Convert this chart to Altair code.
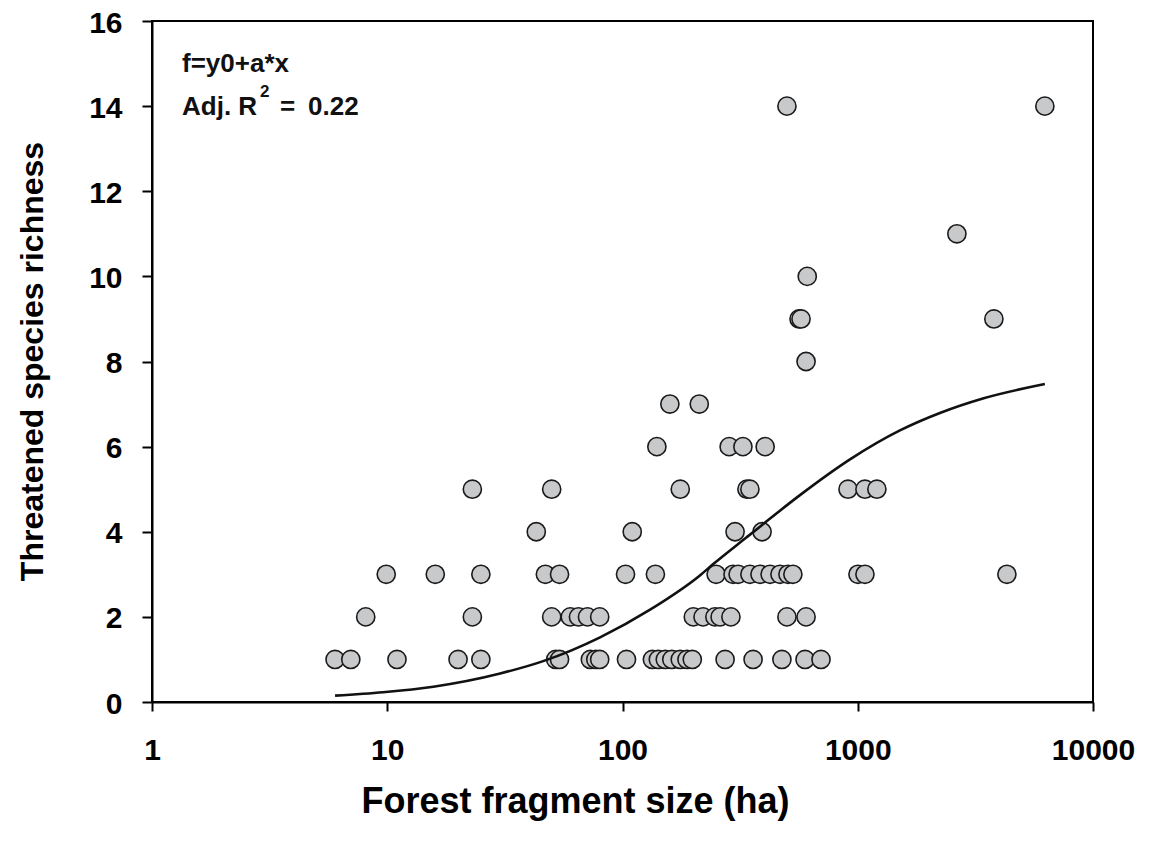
import altair as alt
import pandas as pd

rich_1 = [6.0, 7.0, 11, 20, 25, 52, 54, 73, 77, 80, 104, 134, 142, 152, 162, 176, 188, 198, 273, 359, 476, 597, 698]
rich_2 = [8.1, 23, 50, 60, 65, 71, 80, 200, 220, 247, 260, 289, 500, 603]
rich_3 = [9.9, 16, 25, 47, 54, 103, 138, 250, 295, 310, 348, 384, 424, 467, 505, 530, 1002, 1073, 4305]
rich_4 = [43, 110, 301, 392]
rich_5 = [23, 50, 176, 338, 348, 909, 1073, 1206]
rich_6 = [140, 284, 325, 404]
rich_7 = [159, 212]
rich_8 = [603]
rich_9 = [563, 574, 3790]
rich_10 = [610]
rich_11 = [2639]
rich_14 = [500, 6242]

groups = {1: rich_1, 2: rich_2, 3: rich_3, 4: rich_4, 5: rich_5, 6: rich_6,
          7: rich_7, 8: rich_8, 9: rich_9, 10: rich_10, 11: rich_11, 14: rich_14}

fragment_size_ha = []
species_richness = []
for r, xs in groups.items():
    for v in xs:
        fragment_size_ha.append(v)
        species_richness.append(r)

# Fitted curve
fit_size_ha = [6.0, 9.6, 15.7, 30.2, 46.0, 80.3, 131, 214, 243, 337, 384, 568, 927, 1511, 2235, 3403, 6242]
fit_richness = [0.15, 0.23, 0.36, 0.67, 0.96, 1.52, 2.17, 2.98, 3.24, 3.87, 4.12, 4.86, 5.7, 6.38, 6.79, 7.13, 7.47]

x_ticks = [1, 10, 100, 1000, 10000]
y_ticks = [0, 2, 4, 6, 8, 10, 12, 14, 16]

# Annotation pieces: text, left pixel, baseline pixel, font size
ann_text = ["f=y0+a*x", "Adj. R", "2", "=", "0.22"]
ann_px = [30, 30, 108, 128, 156]
ann_py = [51, 94, 76, 94, 94]
ann_fs = [26, 26, 17, 26, 26]

FONT = "Liberation Sans"

pts_df = pd.DataFrame({"size": fragment_size_ha, "rich": species_richness})
fit_df = pd.DataFrame({"size": fit_size_ha, "rich": fit_richness})

x_scale = alt.Scale(type="log", domain=[1, 10000], nice=False)
y_scale = alt.Scale(domain=[0, 16], nice=False, zero=False)

x_axis = alt.Axis(
    values=x_ticks, format="d", title="Forest fragment size (ha)", grid=False,
    tickSize=9, tickWidth=2, tickColor="black", domainColor="black", domainWidth=2,
    labelFont=FONT, labelFontSize=30, labelFontWeight="bold", labelColor="black",
    labelPadding=24, labelFlush=False, labelOverlap=False,
    titleFont=FONT, titleFontSize=36, titleFontWeight="bold", titleColor="black",
    titleX=423, titleY=110, titleAlign="center", titleBaseline="alphabetic",
)
y_axis = alt.Axis(
    values=y_ticks, title="Threatened species richness", grid=False,
    tickSize=10, tickWidth=2, tickColor="black", domainColor="black", domainWidth=2,
    labelFont=FONT, labelFontSize=30, labelFontWeight="bold", labelColor="black",
    labelPadding=20, labelOffset=2, labelFlush=False, labelOverlap=False,
    titleFont=FONT, titleFontSize=32, titleFontWeight="bold", titleColor="black",
    titleX=-110, titleY=340, titleAngle=270, titleAlign="center", titleBaseline="alphabetic",
)

points = alt.Chart(pts_df).mark_circle(
    size=330, color="#c8c9cb", opacity=1, stroke="#1a1a1a", strokeWidth=1.6
).encode(
    x=alt.X("size:Q", scale=x_scale, axis=x_axis),
    y=alt.Y("rich:Q", scale=y_scale, axis=y_axis),
)

curve = alt.Chart(fit_df).mark_line(
    color="#111111", strokeWidth=2.6, interpolate="monotone"
).encode(
    x=alt.X("size:Q", scale=x_scale),
    y=alt.Y("rich:Q", scale=y_scale),
)

ann_df = pd.DataFrame({"t": ann_text, "px": ann_px, "py": ann_py, "fs": ann_fs})
annotation = alt.Chart(ann_df).mark_text(
    align="left", baseline="alphabetic", font=FONT, fontWeight="bold", color="#111111"
).encode(
    x=alt.X("px:Q", scale=None),
    y=alt.Y("py:Q", scale=None),
    size=alt.Size("fs:Q", scale=None, legend=None),
    text="t:N",
)

chart = alt.layer(points, curve, annotation).properties(
    width=941, height=681,
    autosize=alt.AutoSizeParams(type="none"),
    padding={"left": 144, "top": 13, "right": 50, "bottom": 130},
).configure_view(stroke="black", strokeWidth=2)

chart.save("out.html", embed_options={"renderer": "svg", "actions": False})
